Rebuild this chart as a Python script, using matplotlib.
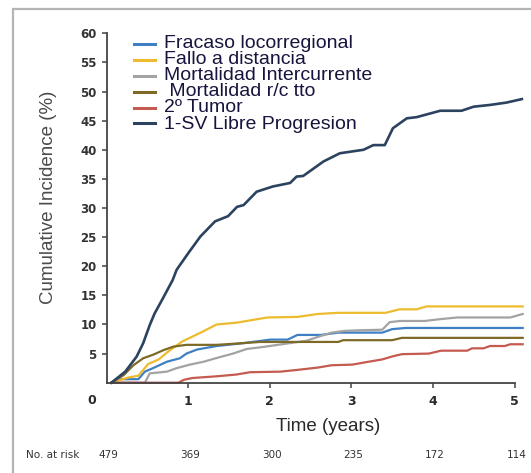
import matplotlib
matplotlib.use("Agg")
import matplotlib.pyplot as plt
from matplotlib.lines import Line2D
from matplotlib.patches import Rectangle

# curvas de incidencia acumulada (tiempo en años, incidencia en %)
t_loco = [0.06, 0.18, 0.39, 0.47, 0.57, 0.74, 0.90, 0.98, 1.11, 1.35, 1.68, 2.01, 2.22, 2.34,
          2.63, 2.84, 3.38, 3.50, 3.67, 5.10]
v_loco = [0.0, 0.6, 0.6, 1.9, 2.5, 3.6, 4.2, 5.0, 5.7, 6.3, 6.8, 7.4, 7.4, 8.2,
          8.2, 8.6, 8.6, 9.2, 9.4, 9.4]

t_dist = [0.06, 0.27, 0.39, 0.51, 0.64, 0.76, 0.93, 1.14, 1.35, 1.59, 1.76, 1.97, 2.34, 2.59,
          2.84, 3.42, 3.59, 3.80, 3.92, 5.10]
v_dist = [0.0, 0.9, 1.2, 3.2, 4.0, 5.4, 7.1, 8.5, 10.0, 10.3, 10.7, 11.2, 11.3, 11.8,
          12.0, 12.0, 12.6, 12.6, 13.1, 13.1]

t_inter = [0.06, 0.47, 0.53, 0.74, 0.86, 1.02, 1.19, 1.39, 1.55, 1.72, 1.90, 2.05, 2.25, 2.45,
           2.62, 2.76, 2.92, 3.10, 3.38, 3.47, 3.60, 3.90, 4.08, 4.30, 4.95, 5.10]
v_inter = [0.0, 0.0, 1.6, 1.9, 2.5, 3.1, 3.6, 4.4, 5.0, 5.8, 6.1, 6.4, 6.8, 7.2,
           8.0, 8.6, 8.9, 9.0, 9.1, 10.4, 10.6, 10.6, 10.9, 11.2, 11.2, 11.8]

t_tto = [0.06, 0.21, 0.33, 0.45, 0.57, 0.70, 0.82, 0.98, 1.35, 1.68, 1.88, 2.84, 2.90, 3.50,
         3.62, 5.10]
v_tto = [0.0, 1.3, 3.0, 4.2, 4.8, 5.6, 6.2, 6.5, 6.5, 6.8, 7.0, 7.0, 7.3, 7.3,
         7.7, 7.7]

t_tumor = [0.06, 0.88, 0.95, 1.05, 1.35, 1.59, 1.76, 2.13, 2.34, 2.59, 2.76, 3.01, 3.17, 3.38,
           3.50, 3.62, 3.95, 4.10, 4.42, 4.48, 4.62, 4.70, 4.88, 4.95, 5.10]
v_tumor = [0.0, 0.0, 0.5, 0.8, 1.1, 1.4, 1.8, 1.9, 2.2, 2.6, 3.0, 3.1, 3.5, 4.0,
           4.5, 4.9, 5.0, 5.5, 5.5, 5.9, 5.9, 6.3, 6.3, 6.6, 6.6]

t_slp = [0.06, 0.23, 0.37, 0.45, 0.53, 0.59, 0.68, 0.81, 0.86, 1.00, 1.15, 1.33, 1.49, 1.60,
         1.68, 1.84, 2.04, 2.25, 2.33, 2.41, 2.49, 2.66, 2.86, 3.15, 3.27, 3.41, 3.51, 3.68,
         3.80, 4.09, 4.35, 4.50, 4.70, 4.90, 5.09]
v_slp = [0.0, 1.9, 4.5, 6.8, 9.9, 11.9, 14.2, 17.6, 19.4, 22.2, 25.1, 27.7, 28.6, 30.2,
         30.5, 32.8, 33.7, 34.3, 35.4, 35.5, 36.3, 38.0, 39.4, 40.0, 40.8, 40.8, 43.7, 45.4,
         45.6, 46.7, 46.7, 47.4, 47.7, 48.1, 48.7]

labels = ["Fracaso locorregional", "Fallo a distancia", "Mortalidad Intercurrente",
          " Mortalidad r/c tto", "2º Tumor", "1-SV Libre Progresion"]
colors = ["#3f7fc4", "#ecbb2e", "#a3a3a3", "#7d6a26", "#c45a50", "#2c4360"]

risk_times = [0, 1, 2, 3, 4, 5]
at_risk = [479, 369, 300, 235, 172, 114]

W, H = 531, 473
fig = plt.figure(figsize=(W / 100, H / 100), dpi=100)

def fx(px):
    return px / W

def fy(py):
    return 1 - py / H

# marco gris exterior
fig.patches.append(Rectangle((fx(12.5), -0.2), 1.3, fy(9.5) + 0.2, transform=fig.transFigure,
                             fill=False, edgecolor="#b5b5b5", linewidth=1.6))

x0, x1 = 106.5, 524.3
y0, y1 = 382.7, 33.3
ax = fig.add_axes([fx(x0), fy(y0), (x1 - x0) / W, (y0 - y1) / H])
ax.set_xlim(0, 5.12)
ax.set_ylim(0, 60)

series = [(t_loco, v_loco), (t_dist, v_dist), (t_inter, v_inter),
          (t_tto, v_tto), (t_tumor, v_tumor), (t_slp, v_slp)]
for (t, v), c, lab in zip(series, colors, labels):
    lw = 1.9 if lab.startswith("1-SV") else 1.6
    ax.plot(t, v, color=c, linewidth=lw, solid_joinstyle="round", clip_on=False)

for s in ["top", "right"]:
    ax.spines[s].set_visible(False)
ax.spines["left"].set_color("#444444")
ax.spines["bottom"].set_color("#444444")
ax.spines["left"].set_linewidth(1.3)
ax.spines["bottom"].set_linewidth(1.3)
ax.spines["bottom"].set_bounds(0, 5)

ax.set_yticks(range(5, 61, 5))
ax.set_xticks([1, 2, 3, 4, 5])
ax.tick_params(axis="y", direction="out", length=3.5, width=1.1, color="#444444", pad=3.5,
               labelsize=8.5, labelcolor="#333333")
ax.tick_params(axis="x", direction="out", length=3.5, width=1.1, color="#444444", pad=5,
               labelsize=9, labelcolor="#2a2a2a")
for lbl in ax.get_yticklabels() + ax.get_xticklabels():
    lbl.set_fontweight("bold")

fig.text(fx(92), fy(400), "0", ha="center", va="center", fontsize=9, fontweight="bold",
         color="#2a2a2a")

fig.text(fx(48.5), fy(197.5), "Cumulative Incidence (%)", rotation=90, ha="center",
         va="center", fontsize=13.5, family="Liberation Sans", color="#4a4a4a")
fig.text(fx(328), fy(426), "Time (years)", ha="center", va="center", fontsize=13.5,
         family="Liberation Sans", color="#2a2a2a")

# número en riesgo
fig.text(fx(26), fy(454.5), "No. at risk", ha="left", va="center", fontsize=7.5, color="#333333")
for tr, n in zip(risk_times, at_risk):
    xp = x0 + tr * (514.7 - x0) / 5 + 2
    fig.text(fx(xp), fy(454.5), str(n), ha="center", va="center", fontsize=7.5, color="#333333")

# leyenda
swatch_y = [44, 60, 75.7, 91.7, 107.7, 123.3]
text_base = [48.5, 64, 80, 95.5, 111.5, 129]
for c, lab, sy, ty in zip(colors, labels, swatch_y, text_base):
    fig.add_artist(Line2D([fx(133.5), fx(155)], [fy(sy), fy(sy)], color=c, linewidth=2.2,
                          transform=fig.transFigure))
    fig.text(fx(164.5), fy(ty), lab, ha="left", va="baseline", fontsize=14,
             family="Liberation Sans", color="#17143d")

fig.savefig("out.png", dpi=100)
